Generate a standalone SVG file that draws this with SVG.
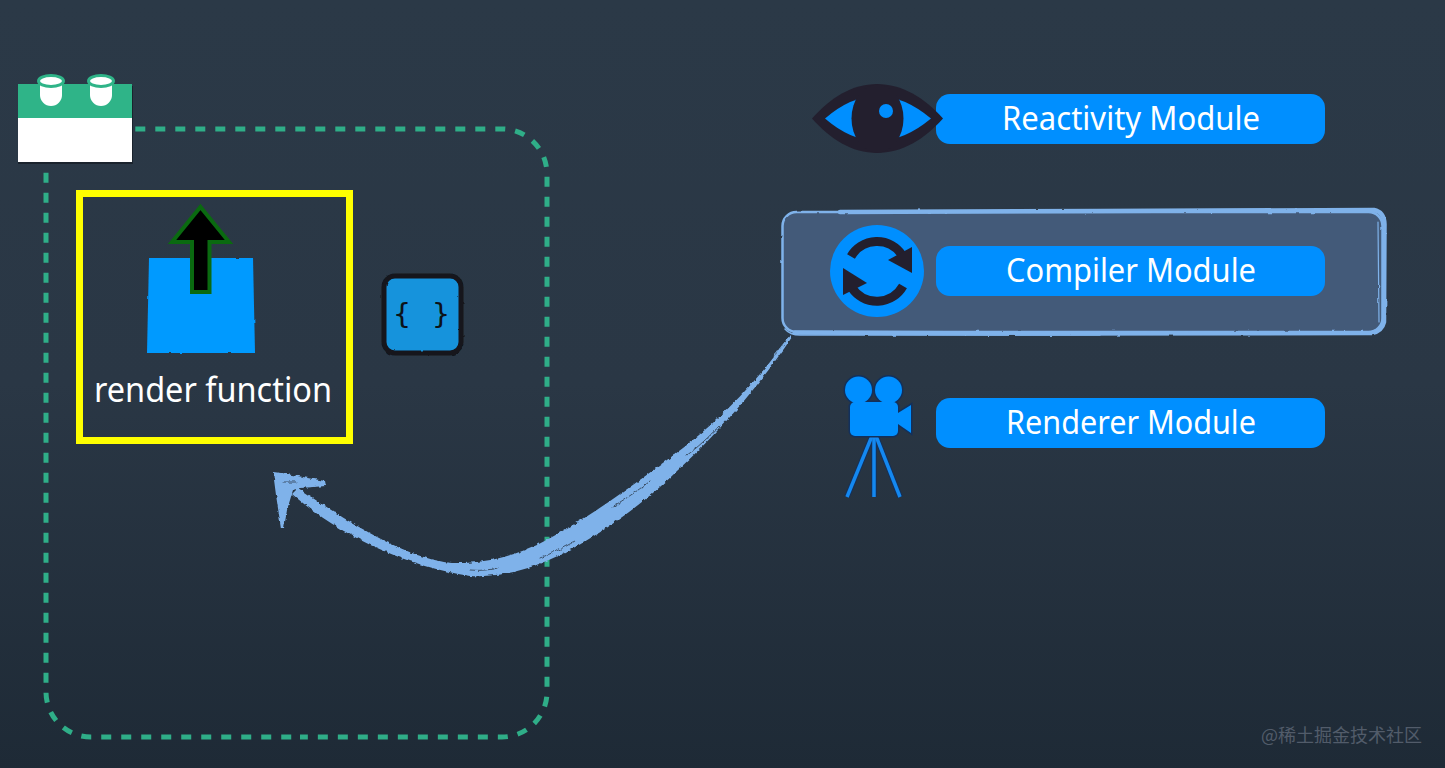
<svg xmlns="http://www.w3.org/2000/svg" width="1445" height="768" viewBox="0 0 1445 768">
  <defs>
    <linearGradient id="backdrop" x1="0" y1="0" x2="0" y2="1">
      <stop offset="0" stop-color="#2b3947"/>
      <stop offset="0.5" stop-color="#2a3745"/>
      <stop offset="1" stop-color="#1e2a36"/>
    </linearGradient>
    <!-- dry-brush edge for the hand-drawn strokes -->
    <filter id="rough" x="-5%" y="-5%" width="110%" height="110%">
      <feTurbulence type="fractalNoise" baseFrequency="0.22" numOctaves="2" seed="4" result="noise"/>
      <feDisplacementMap in="SourceGraphic" in2="noise" scale="3.500" xChannelSelector="R" yChannelSelector="G"/>
    </filter>
    <filter id="roughSoft" x="-5%" y="-5%" width="110%" height="110%">
      <feTurbulence type="fractalNoise" baseFrequency="0.12" numOctaves="2" seed="9" result="noise"/>
      <feDisplacementMap in="SourceGraphic" in2="noise" scale="2" xChannelSelector="R" yChannelSelector="G"/>
    </filter>
  </defs>
  <style>
    .pill { fill: #008fff; }
    .label { font-family: "Noto Sans", "Open Sans", sans-serif; font-size: 32px; fill: #ffffff; text-anchor: middle; }
    .ink { fill: #231f2e; }
    .arc { fill: none; stroke: #231f2e; stroke-width: 9; }
    .brush { fill: none; stroke: #7fb2ea; stroke-linecap: round; }
    .scratch { fill: none; stroke: #2b3949; stroke-width: 0.8; stroke-linecap: round; }
    .dash { fill: none; stroke: #2fae88; stroke-width: 5; stroke-dasharray: 10 10; stroke-dashoffset: -1.300; }
    .leg { stroke: #1488f0; stroke-width: 3.500; }
    .legline { stroke: #12305c; stroke-width: 5.500; }
    .outline { fill: #12305c; stroke: #12305c; stroke-width: 3; }
    .cam { fill: #008fff; }
  </style>

  <rect width="1445" height="768" fill="url(#backdrop)"/>

  <g id="connectors">
    <!-- dashed component outline, two runs meeting at the bottom edge -->
    <path class="dash" d="M134 129H502A45 45 0 0 1 547 174V692A45 45 0 0 1 502 737H300"/>
    <path class="dash" d="M46 171.500V692A45 45 0 0 0 91 737H300"/>
    <!-- brushed sweep from the compiler panel to the component -->
    <g id="compile-arrow" filter="url(#rough)">
      <path d="M790 335C750 393 702 436 660 465C620 495 585 520 537 545C510 557 482 564 452 563C410 559 358 529 298 488L292 494C335 532 400 565 470 576C505 578 535 567 562 554C600 535 645 503 677 471C718 433 757 389 792 337Z" fill="#7fb2ea"/>
      <path d="M273 472L281 473L325 481L326 486L300 488L293 490L287 510L284 528L281 528L276 495Z" fill="#7fb2ea"/>
      <path class="scratch" d="M650 481C635 493 622 501 612 507"/>
      <path class="scratch" d="M720 425C708 438 698 447 686 456"/>
      <path class="scratch" d="M575 541C562 549 552 553 540 558"/>
      <path class="scratch" d="M470 570C480 571 490 570 498 568"/>
      <path class="scratch" d="M283 482L296 482"/>
      <path class="brush" stroke-width="0.800" d="M788 338L774 356"/>
    </g>
  </g>

  <g id="component-brick">
    <rect x="18" y="86" width="115" height="78" fill="#10151c" opacity="0.6"/>
    <rect x="18" y="118" width="114" height="44" fill="#ffffff"/>
    <rect x="18" y="84" width="114" height="34" fill="#2fb488"/>
    <path d="M40 81V95A11 11 0 0 0 62 95V81Z" fill="#ffffff"/>
    <ellipse cx="51" cy="81" rx="12.500" ry="5.500" fill="#ffffff" stroke="#2fb488" stroke-width="3"/>
    <path d="M90 81V95A11 11 0 0 0 112 95V81Z" fill="#ffffff"/>
    <ellipse cx="101" cy="81" rx="12.500" ry="5.500" fill="#ffffff" stroke="#2fb488" stroke-width="3"/>
  </g>

  <g id="render-function">
    <rect x="79.500" y="193.500" width="270" height="247" fill="none" stroke="#ffff00" stroke-width="7"/>
    <path d="M149 258L253 258L255 353L147 353Z" fill="#009aff" filter="url(#roughSoft)"/>
    <path d="M200.500 207L229 242H209.500V292H192V242H172Z" fill="#000000" stroke="#0a6a10" stroke-width="4"/>
    <text class="label" x="213" y="402" textLength="238" lengthAdjust="spacingAndGlyphs" style="font-size:34px">render function</text>
  </g>

  <g id="data-block">
    <rect x="384" y="276" width="77" height="77" rx="11" fill="#1893dc" stroke="#12151c" stroke-width="5" filter="url(#roughSoft)"/>
    <text x="421.500" y="324" font-family="'DejaVu Sans Mono', 'Liberation Mono', monospace" font-size="29" fill="#0c1218" text-anchor="middle" word-spacing="4.200">{ }</text>
  </g>

  <g id="reactivity-module">
    <rect class="pill" x="936" y="94" width="389" height="50" rx="14"/>
    <path class="ink" d="M812 118.500C830 98 852 84 877 84C902 84 925 98 943 118.500C925 139 902 153 877 153C852 153 830 139 812 118.500Z"/>
    <path class="pill" d="M825 118.500Q877 73.500 931 118.500Q877 163.500 825 118.500Z"/>
    <ellipse class="ink" cx="877.500" cy="118.500" rx="26" ry="34"/>
    <circle class="pill" cx="886" cy="111" r="7"/>
    <text class="label" x="1131" y="130" textLength="258" lengthAdjust="spacingAndGlyphs">Reactivity Module</text>
  </g>

  <g id="compiler-module">
    <rect x="783" y="211" width="600" height="122" rx="14" fill="#435a79"/>
    <g filter="url(#roughSoft)">
      <rect class="brush" x="782.500" y="212" width="600" height="120" rx="14" stroke-width="2.500"/>
      <path class="brush" stroke-width="4.500" d="M840 212L1100 211L1374 210Q1384 212 1384.500 224L1384 322Q1382 331 1372 333L1000 333.500L795 332.500"/>
      <path class="brush" stroke-width="1.200" d="M1378 222L1379 322"/>
      <path class="brush" stroke-width="1.500" d="M785 329Q790 335 800 335L1100 335"/>
    </g>
    <ellipse class="pill" cx="877" cy="271" rx="47" ry="46"/>
    <path class="arc" d="M851 256.500A30 30 0 0 1 902 255"/>
    <path class="ink" d="M912 247L912 273L888 260Z"/>
    <path class="arc" d="M903 286A30 30 0 0 1 852 288"/>
    <path class="ink" d="M843 268L843 295L867 283Z"/>
    <rect class="pill" x="936" y="246" width="389" height="50" rx="14"/>
    <text class="label" x="1131" y="282" textLength="250" lengthAdjust="spacingAndGlyphs">Compiler Module</text>
  </g>

  <g id="renderer-module">
    <line class="legline" x1="872" y1="436" x2="847" y2="497"/>
    <line class="legline" x1="874" y1="436" x2="874" y2="497"/>
    <line class="legline" x1="876" y1="436" x2="900" y2="497"/>
    <line class="leg" x1="872" y1="436" x2="847" y2="497"/>
    <line class="leg" x1="874" y1="436" x2="874" y2="497"/>
    <line class="leg" x1="876" y1="436" x2="900" y2="497"/>
    <circle class="outline" cx="858.500" cy="390" r="13.500"/>
    <circle class="outline" cx="888.500" cy="390" r="13.500"/>
    <rect class="outline" x="850" y="402" width="48" height="34" rx="5"/>
    <path class="outline" d="M898 413L911 405V433L898 424Z"/>
    <circle class="cam" cx="858.500" cy="390" r="13.500"/>
    <circle class="cam" cx="888.500" cy="390" r="13.500"/>
    <rect class="cam" x="850" y="402" width="48" height="34" rx="5"/>
    <path class="cam" d="M898 413L911 405V433L898 424Z"/>
    <rect class="pill" x="936" y="398" width="389" height="50" rx="14"/>
    <text class="label" x="1131" y="434" textLength="250" lengthAdjust="spacingAndGlyphs">Renderer Module</text>
  </g>

  <text id="credit" x="1261" y="742" font-family="'Noto Sans CJK SC', 'Noto Sans', sans-serif" font-size="18" fill="#525c6a">@稀土掘金技术社区</text>
</svg>
